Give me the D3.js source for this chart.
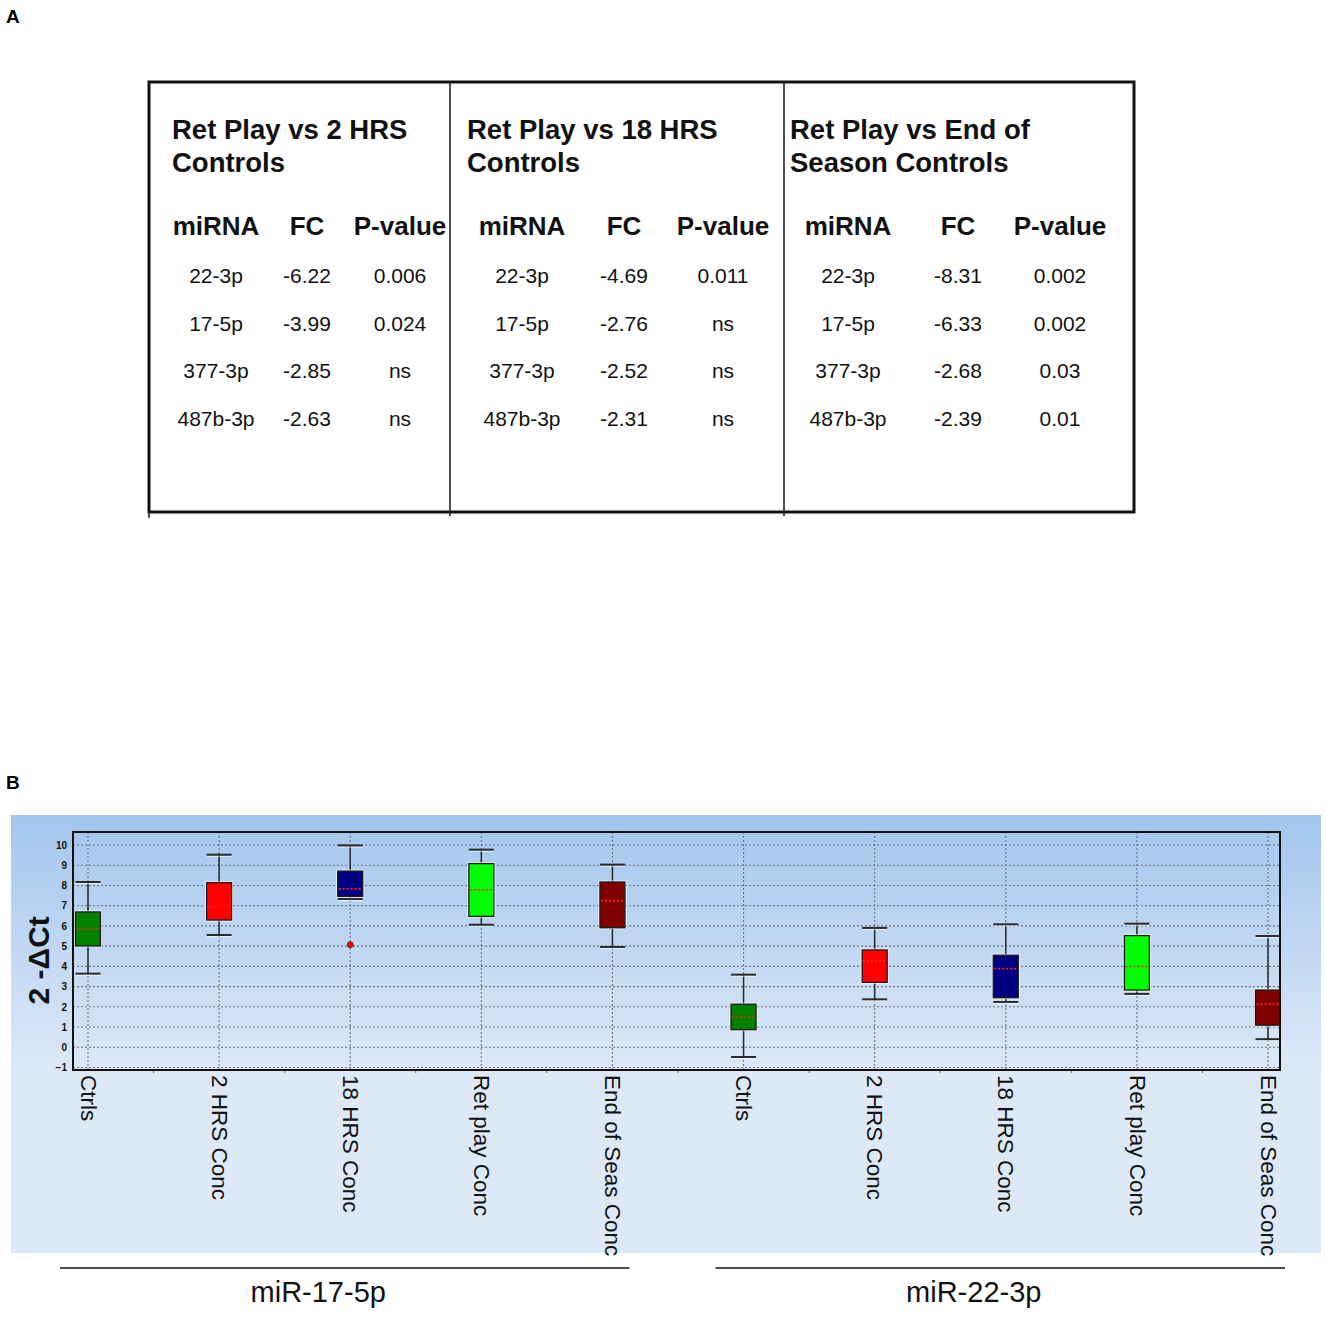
<!DOCTYPE html>
<html>
<head>
<meta charset="utf-8">
<script src="https://cdn.jsdelivr.net/npm/d3@7"></script>
<style>
  body { margin: 0; background: #ffffff; }
  text { font-family: Arial, "Liberation Sans", sans-serif; }
</style>
</head>
<body>
<div id="canvas"></div>
<script>
"use strict"

/* ---------- PANEL A data (table) ---------- */
let comparisonTitles = [
  ["Ret Play vs 2 HRS", "Controls"],
  ["Ret Play vs 18 HRS", "Controls"],
  ["Ret Play vs End of", "Season Controls"]
];
let tableHeaders = ["miRNA", "FC", "P-value"];
let mirnas = ["22-3p", "17-5p", "377-3p", "487b-3p"];
let fcVs2hrs = ["-6.22", "-3.99", "-2.85", "-2.63"];
let pVs2hrs = ["0.006", "0.024", "ns", "ns"];
let fcVs18hrs = ["-4.69", "-2.76", "-2.52", "-2.31"];
let pVs18hrs = ["0.011", "ns", "ns", "ns"];
let fcVsEndSeason = ["-8.31", "-6.33", "-2.68", "-2.39"];
let pVsEndSeason = ["0.002", "0.002", "0.03", "0.01"];

/* ---------- PANEL B data (box plots) ---------- */
let groups = ["miR-17-5p", "miR-22-3p"];
let conditions = ["Ctrls", "2 HRS Conc", "18 HRS Conc", "Ret play Conc", "End of Seas Conc"];
let whiskerLow  = [3.64, 5.55, 7.33, 6.06, 4.96, -0.48, 2.37, 2.24, 2.64, 0.40];
let quartile1   = [5.01, 6.29, 7.46, 6.47, 5.91, 0.87, 3.21, 2.45, 2.83, 1.09];
let medians     = [5.87, 6.94, 7.83, 7.79, 7.25, 1.52, 4.27, 3.89, 3.99, 2.13];
let quartile3   = [6.69, 8.14, 8.71, 9.08, 8.17, 2.13, 4.81, 4.55, 5.52, 2.83];
let whiskerHigh = [8.17, 9.52, 9.98, 9.77, 9.03, 3.59, 5.90, 6.08, 6.11, 5.50];
let outliers = [{ box: 2, value: 5.07 }];
let yTicks = [-1, 0, 1, 2, 3, 4, 5, 6, 7, 8, 9, 10];

/* colours per condition */
let boxColors = ["#008000", "#ff0000", "#000080", "#00ff00", "#800000"];

let drawing = d3.select("#canvas")
  .append("svg")
  .attr("width", 1325)
  .attr("height", 1317);

/* ==========================
   PANEL A – table
   ========================== */
drawing.append("text").attr("x", 6).attr("y", 23)
  .attr("font-size", 19).attr("font-weight", "bold").text("A");

let tableLeft = 149, tableRight = 1134, tableTop = 82, tableBottom = 512;
let dividers = [450, 784];

drawing.append("rect")
  .attr("x", tableLeft).attr("y", tableTop)
  .attr("width", tableRight - tableLeft).attr("height", tableBottom - tableTop)
  .attr("fill", "none").attr("stroke", "#111").attr("stroke-width", 3);

dividers.forEach(function (dx) {
  drawing.append("line")
    .attr("x1", dx).attr("y1", tableTop).attr("x2", dx).attr("y2", tableBottom + 4)
    .attr("stroke", "#222").attr("stroke-width", 1.6);
});
drawing.append("line")
  .attr("x1", tableLeft).attr("y1", tableBottom).attr("x2", tableLeft).attr("y2", tableBottom + 6)
  .attr("stroke", "#222").attr("stroke-width", 1.6);

let titleX = [172, 467, 790];
let columnX = [[216, 307, 400], [522, 624, 723], [848, 958, 1060]];
let fcColumns = [fcVs2hrs, fcVs18hrs, fcVsEndSeason];
let pColumns = [pVs2hrs, pVs18hrs, pVsEndSeason];
let rowY = d3.scalePoint().domain(mirnas).range([283, 426]);

comparisonTitles.forEach(function (title, c) {
  title.forEach(function (line, l) {
    drawing.append("text")
      .attr("x", titleX[c]).attr("y", 139 + l * 33)
      .attr("font-size", 27.5).attr("font-weight", "bold").attr("fill", "#111")
      .text(line);
  });

  tableHeaders.forEach(function (h, k) {
    drawing.append("text")
      .attr("x", columnX[c][k]).attr("y", 235)
      .attr("text-anchor", "middle")
      .attr("font-size", 26).attr("font-weight", "bold").attr("fill", "#111")
      .text(h);
  });

  mirnas.forEach(function (m, r) {
    let cells = [m, fcColumns[c][r], pColumns[c][r]];
    cells.forEach(function (v, k) {
      drawing.append("text")
        .attr("x", columnX[c][k]).attr("y", rowY(m))
        .attr("text-anchor", "middle")
        .attr("font-size", 21).attr("fill", "#111")
        .text(v);
    });
  });
});

/* ==========================
   PANEL B – box plots
   ========================== */
drawing.append("text").attr("x", 6).attr("y", 789)
  .attr("font-size", 19).attr("font-weight", "bold").text("B");

let defs = drawing.append("defs");
let grad = defs.append("linearGradient").attr("id", "panelGrad")
  .attr("x1", 0).attr("y1", 0).attr("x2", 0).attr("y2", 1);
grad.append("stop").attr("offset", "0%").attr("stop-color", "#a3c6ee");
grad.append("stop").attr("offset", "100%").attr("stop-color", "#dde9f7");

/* background panel */
drawing.append("rect")
  .attr("x", 11).attr("y", 815).attr("width", 1310).attr("height", 438)
  .attr("fill", "#dde9f6");
drawing.append("rect")
  .attr("x", 11).attr("y", 815).attr("width", 1310).attr("height", 258)
  .attr("fill", "url(#panelGrad)");

let frameLeft = 73, frameRight = 1280, frameTop = 832, frameBottom = 1070;

let boxIndex = d3.range(whiskerLow.length);
let x = d3.scalePoint().domain(boxIndex).range([88, 1268]);
let y = d3.scaleLinear().domain([-1, 10]).range([1067.5, 845]);
let boxWidth = 25;

/* horizontal grid */
drawing.append("g").selectAll("line")
  .data(yTicks).join("line")
  .attr("x1", frameLeft).attr("x2", frameRight)
  .attr("y1", d => y(d)).attr("y2", d => y(d))
  .attr("stroke", "#6f747d").attr("stroke-width", 1.1)
  .attr("stroke-dasharray", "2,2");

/* vertical grid */
drawing.append("g").selectAll("line")
  .data(boxIndex).join("line")
  .attr("x1", d => x(d)).attr("x2", d => x(d))
  .attr("y1", frameTop).attr("y2", frameBottom)
  .attr("stroke", "#6f747d").attr("stroke-width", 1.1)
  .attr("stroke-dasharray", "2,2");

/* minor ticks between categories */
drawing.append("g").selectAll("line")
  .data(boxIndex.slice(0, -1)).join("line")
  .attr("x1", d => x(d) + x.step() / 2).attr("x2", d => x(d) + x.step() / 2)
  .attr("y1", frameBottom).attr("y2", frameBottom + 3)
  .attr("stroke", "#666").attr("stroke-width", 1);

/* y axis labels */
let yAxis = drawing.append("g")
  .attr("transform", "translate(" + frameLeft + ",0)")
  .call(d3.axisLeft(y).tickValues(yTicks).tickSize(0).tickPadding(6));
yAxis.select(".domain").remove();
yAxis.selectAll("text")
  .attr("font-family", "Arial, 'Liberation Sans', sans-serif")
  .attr("font-size", 10).attr("font-weight", "bold").attr("fill", "#111");

drawing.append("text")
  .attr("transform", "translate(49," + y(4.3) + ") rotate(-90)")
  .attr("text-anchor", "middle")
  .attr("font-size", 30).attr("font-weight", "bold").attr("fill", "#111")
  .text("2 -\u0394Ct");

/* whiskers */
let whiskers = drawing.append("g");
boxIndex.forEach(function (i) {
  let cx = x(i);
  [[whiskerLow[i], quartile1[i]], [quartile3[i], whiskerHigh[i]]].forEach(function (seg) {
    whiskers.append("line")
      .attr("x1", cx).attr("x2", cx)
      .attr("y1", y(seg[0])).attr("y2", y(seg[1]))
      .attr("stroke", "#2a2a2a").attr("stroke-width", 1.5);
  });
  [whiskerLow[i], whiskerHigh[i]].forEach(function (v) {
    whiskers.append("line")
      .attr("x1", cx - boxWidth / 2).attr("x2", cx + boxWidth / 2)
      .attr("y1", y(v) + 1.5).attr("y2", y(v) + 1.5)
      .attr("stroke", "#ffffff").attr("stroke-opacity", 0.6).attr("stroke-width", 1.5);
    whiskers.append("line")
      .attr("x1", cx - boxWidth / 2).attr("x2", cx + boxWidth / 2)
      .attr("y1", y(v)).attr("y2", y(v))
      .attr("stroke", "#2a2a2a").attr("stroke-width", 2);
  });
});

/* boxes */
drawing.append("g").selectAll("rect.halo")
  .data(boxIndex).join("rect")
  .attr("class", "halo")
  .attr("x", d => x(d) - boxWidth / 2 - 1.5)
  .attr("y", d => y(quartile3[d]) - 1.5)
  .attr("width", boxWidth + 3)
  .attr("height", d => y(quartile1[d]) - y(quartile3[d]) + 3)
  .attr("fill", "#ffffff").attr("fill-opacity", 0.7);

drawing.append("g").selectAll("rect.box")
  .data(boxIndex).join("rect")
  .attr("class", "box")
  .attr("x", d => x(d) - boxWidth / 2)
  .attr("y", d => y(quartile3[d]))
  .attr("width", boxWidth)
  .attr("height", d => y(quartile1[d]) - y(quartile3[d]))
  .attr("fill", d => boxColors[d % conditions.length])
  .attr("stroke", "#1a1a1a").attr("stroke-width", 1.3);

/* medians */
drawing.append("g").selectAll("line")
  .data(boxIndex).join("line")
  .attr("x1", d => x(d) - boxWidth / 2 + 1).attr("x2", d => x(d) + boxWidth / 2 - 1)
  .attr("y1", d => y(medians[d])).attr("y2", d => y(medians[d]))
  .attr("stroke", "#ff2020").attr("stroke-width", 1.6)
  .attr("stroke-dasharray", "2,2");

/* outliers */
drawing.append("g").selectAll("circle")
  .data(outliers).join("circle")
  .attr("cx", d => x(d.box)).attr("cy", d => y(d.value))
  .attr("r", 3).attr("fill", "#e01010").attr("stroke", "#8a0000").attr("stroke-width", 0.8);

/* plot frame */
drawing.append("rect")
  .attr("x", frameLeft).attr("y", frameTop)
  .attr("width", frameRight - frameLeft).attr("height", frameBottom - frameTop)
  .attr("fill", "none").attr("stroke", "#111").attr("stroke-width", 2);

/* category labels */
let xAxis = drawing.append("g")
  .attr("transform", "translate(0," + frameBottom + ")")
  .call(d3.axisBottom(x).tickSize(0).tickFormat(d => conditions[d % conditions.length]));
xAxis.select(".domain").remove();
xAxis.selectAll("text")
  .attr("font-family", "Arial, 'Liberation Sans', sans-serif")
  .attr("font-size", 22.5).attr("fill", "#111")
  .attr("transform", "rotate(90)")
  .attr("x", 5).attr("y", 0).attr("dy", "0.35em")
  .attr("text-anchor", "start");

/* group underlines and names */
groups.forEach(function (g, gi) {
  let first = gi * conditions.length;
  let last = first + conditions.length - 1;
  drawing.append("line")
    .attr("x1", x(first) - 28).attr("x2", x(last) + 17)
    .attr("y1", 1268).attr("y2", 1268)
    .attr("stroke", "#111").attr("stroke-width", 1.5);
  drawing.append("text")
    .attr("x", x(first + 2) - 32).attr("y", 1302)
    .attr("text-anchor", "middle")
    .attr("font-size", 29).attr("fill", "#111")
    .text(g);
});
</script>
</body>
</html>
